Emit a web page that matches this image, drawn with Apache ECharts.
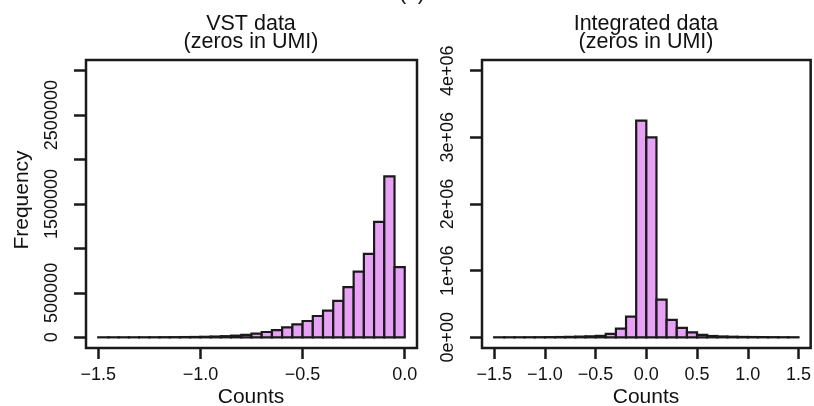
<!DOCTYPE html>
<html>
<head>
<meta charset="utf-8">
<title>VST vs integrated data histograms</title>
<script src="https://cdn.jsdelivr.net/npm/echarts@6/dist/echarts.min.js"></script>
<style>
  html, body { margin: 0; padding: 0; background: #fff; }
  #chart { width: 814px; height: 406px; }
</style>
</head>
<body>
<div id="chart"></div>
<script>
// Histogram of VST values (zeros in UMI): bin edges and counts, width 0.05
const vstEdges = [-1.5, -1.45, -1.4, -1.35, -1.3, -1.25, -1.2, -1.15, -1.1, -1.05,
  -1.0, -0.95, -0.9, -0.85, -0.8, -0.75, -0.7, -0.65, -0.6, -0.55,
  -0.5, -0.45, -0.4, -0.35, -0.3, -0.25, -0.2, -0.15, -0.1, -0.05, 0.0];
const vstCounts = [100, 200, 300, 500, 700, 1000, 1500, 2000, 3000, 4000,
  6000, 9000, 13000, 19000, 28000, 41000, 60000, 82000, 113000, 146000,
  184000, 240000, 300000, 410000, 565000, 740000, 940000, 1300000, 1810000, 790000];

// Histogram of integrated values (zeros in UMI): bin edges and counts, width 0.1
const intEdges = [-1.5, -1.4, -1.3, -1.2, -1.1, -1.0, -0.9, -0.8, -0.7, -0.6,
  -0.5, -0.4, -0.3, -0.2, -0.1, 0.0, 0.1, 0.2, 0.3, 0.4,
  0.5, 0.6, 0.7, 0.8, 0.9, 1.0, 1.1, 1.2, 1.3, 1.4, 1.5];
const intCounts = [500, 800, 1000, 1500, 2000, 3000, 4500, 7000, 11000, 15000,
  22000, 53000, 130000, 311000, 3250000, 3000000, 567000, 262000, 141000, 75000,
  36000, 20000, 13000, 9000, 6000, 4500, 3500, 2500, 1800, 1200];

// Axis ticks and the labels that are printed
const vstXTicks = [-1.5, -1.0, -0.5, 0.0];
const vstYTicks = [0, 500000, 1000000, 1500000, 2000000, 2500000, 3000000];
const vstYLabels = [0, 500000, 1500000, 2500000];
const intXTicks = [-1.5, -1.0, -0.5, 0.0, 0.5, 1.0, 1.5];
const intYTicks = [0, 1000000, 2000000, 3000000, 4000000];

const FONT = 'Liberation Sans, Arial, Helvetica, sans-serif';
const INK = '#1a1a1a';
const FILL = '#e8a2f5';

function binRows(edges, counts) {
  return counts.map((c, i) => [edges[i], edges[i + 1], c]);
}

function fmtX(v) {
  return v.toFixed(1).replace('-', '\u2212');
}

function fmtSci(v) {
  if (v === 0) return '0e+00';
  const e = Math.floor(Math.log10(v));
  const m = Math.round(v / Math.pow(10, e));
  return m + 'e+' + String(e).padStart(2, '0');
}

function renderBin(params, api) {
  const p0 = api.coord([api.value(0), api.value(2)]);
  const p1 = api.coord([api.value(1), 0]);
  return {
    type: 'rect',
    shape: { x: p0[0], y: p0[1], width: p1[0] - p0[0], height: p1[1] - p0[1] },
    style: { fill: FILL, stroke: INK, lineWidth: 2.2 }
  };
}

function xAxisFor(idx, min, max, ticks) {
  return {
    type: 'value', gridIndex: idx, min: min, max: max, position: 'bottom',
    axisLine: { show: false, onZero: false },
    splitLine: { show: false },
    axisTick: { show: true, customValues: ticks, length: 11, lineStyle: { color: INK, width: 2.5 } },
    axisLabel: { customValues: ticks, formatter: fmtX, fontFamily: FONT, fontSize: 18, color: '#111', margin: 18 }
  };
}

function yAxisFor(idx, min, max, ticks, labels, fmt) {
  return {
    type: 'value', gridIndex: idx, min: min, max: max, position: 'left',
    axisLine: { show: false, onZero: false },
    splitLine: { show: false },
    axisTick: { show: true, customValues: ticks, length: 12, lineStyle: { color: INK, width: 2.5 } },
    axisLabel: { customValues: labels, formatter: fmt, rotate: 90, fontFamily: FONT, fontSize: 18, color: '#111', margin: 25 }
  };
}

function txt(x, y, s, size, rot) {
  return {
    type: 'text', x: x, y: y, rotation: rot || 0,
    style: { text: s, fontFamily: FONT, fontSize: size, fill: '#111', align: 'center', verticalAlign: 'middle' }
  };
}

const chart = echarts.init(document.getElementById('chart'), null, { renderer: 'canvas' });

chart.setOption({
  animation: false,
  backgroundColor: '#fff',
  grid: [
    { left: 86, top: 60, width: 331, height: 288, show: true, borderColor: INK, borderWidth: 2.5, backgroundColor: 'transparent' },
    { left: 482, top: 60, width: 329, height: 288, show: true, borderColor: INK, borderWidth: 2.5, backgroundColor: 'transparent' }
  ],
  xAxis: [
    xAxisFor(0, -1.56, 0.06, vstXTicks),
    xAxisFor(1, -1.62, 1.62, intXTicks)
  ],
  yAxis: [
    yAxisFor(0, -120000, 3120000, vstYTicks, vstYLabels, v => String(v)),
    yAxisFor(1, -160000, 4160000, intYTicks, intYTicks, fmtSci)
  ],
  series: [
    { type: 'custom', xAxisIndex: 0, yAxisIndex: 0, renderItem: renderBin,
      encode: { x: [0, 1], y: 2 }, data: binRows(vstEdges, vstCounts) },
    { type: 'custom', xAxisIndex: 1, yAxisIndex: 1, renderItem: renderBin,
      encode: { x: [0, 1], y: 2 }, data: binRows(intEdges, intCounts) }
  ],
  graphic: [
    txt(412, -6, '(a)', 21),
    txt(251, 24, 'VST data', 21.5),
    txt(251, 42, '(zeros in UMI)', 21.5),
    txt(646, 24, 'Integrated data', 21.5),
    txt(646, 42, '(zeros in UMI)', 21.5),
    txt(251, 397, 'Counts', 21),
    txt(646, 397, 'Counts', 21),
    txt(22, 200, 'Frequency', 21, Math.PI / 2)
  ]
});
</script>
</body>
</html>
